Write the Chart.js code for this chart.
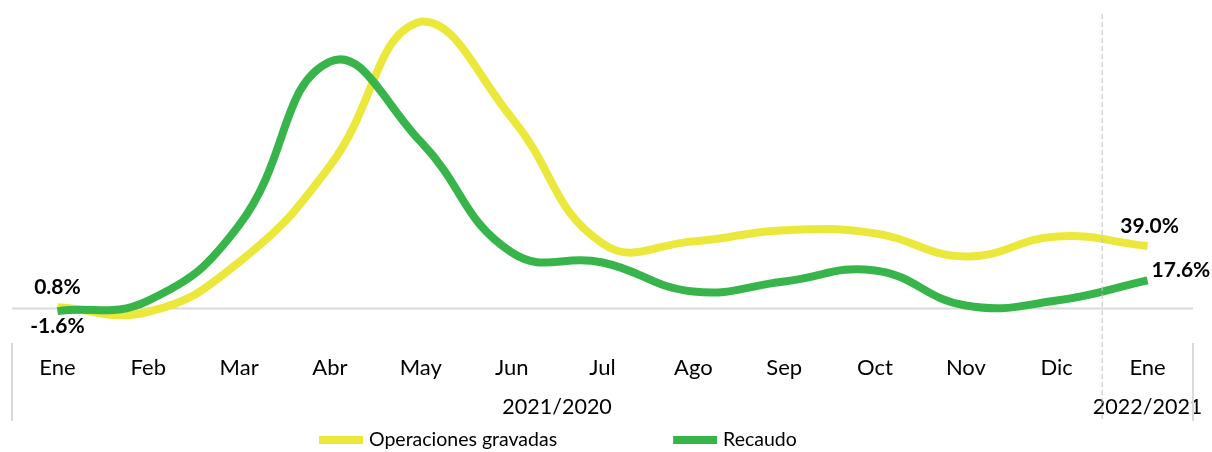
<!DOCTYPE html>
<html>
<head>
<meta charset="utf-8">
<script src="https://cdn.jsdelivr.net/npm/chart.js@4.4.0/dist/chart.umd.min.js"></script>
<style>
  body { margin: 0; background: #fff; }
  #wrap { width: 1212px; height: 452px; }
</style>
</head>
<body>
<div id="wrap"><canvas id="myChart" width="1212" height="452"></canvas></div>
<script>
// data (% change)
const months = ['Ene', 'Feb', 'Mar', 'Abr', 'May', 'Jun', 'Jul', 'Ago', 'Sep', 'Oct', 'Nov', 'Dic', 'Ene'];
const operaciones = [0.8, -2, 29, 89, 179, 119, 40.6, 41.9, 48.8, 46.9, 32.5, 45, 39.0];
const recaudo = [-1.6, 5, 52, 154, 104, 35, 28.7, 10.6, 16.9, 23.7, 1.9, 5, 17.6];
const groups = ['2021/2020', '2022/2021'];
const groupSizes = [12, 1];
// which points get a value label
const labelled = [0, 12];

const yellow = '#ECE83B';
const green = '#38B54A';
const font = 'Lato';

const extras = {
  id: 'extras',
  afterDatasetsDraw(chart) {
    const c = chart.ctx;
    const x = chart.scales.x;
    const y = chart.scales.y;
    const y0 = y.getPixelForValue(0);

    // zero line, behind the lines
    c.save();
    c.globalCompositeOperation = 'destination-over';
    c.strokeStyle = '#d9d9d9';
    c.lineWidth = 2;
    c.beginPath();
    c.moveTo(x.left, y0);
    c.lineTo(x.right, y0);
    c.stroke();
    c.restore();
  },
  afterDraw(chart) {
    const c = chart.ctx;
    const x = chart.scales.x;
    const band = (x.right - x.left) / months.length;

    // group separators + group labels
    c.save();
    c.strokeStyle = '#d9d9d9';
    c.lineWidth = 2;
    let start = 0;
    const edges = [x.left];
    groups.forEach((g, i) => {
      const end = start + groupSizes[i];
      const xa = x.getPixelForValue(start) - band / 2;
      const xb = x.getPixelForValue(end - 1) + band / 2;
      edges.push(xb);
      c.fillStyle = '#000';
      c.font = '21.5px ' + font;
      c.textAlign = 'center';
      c.textBaseline = 'middle';
      c.fillText(g, (xa + xb) / 2, 407);
      start = end;
    });
    edges.forEach((e, i) => {
      if (i === 1) return;
      c.beginPath();
      c.moveTo(e, 343);
      c.lineTo(e, 421);
      c.stroke();
    });
    // dashed divider between years
    c.strokeStyle = '#bfbfbf';
    c.lineWidth = 1;
    c.setLineDash([5, 3]);
    c.beginPath();
    c.moveTo(edges[1], 14);
    c.lineTo(edges[1], 421);
    c.stroke();
    c.setLineDash([]);
    c.restore();

    // value labels
    c.save();
    c.font = 'bold 21px ' + font;
    c.fillStyle = '#000';
    c.textBaseline = 'middle';
    const m0 = chart.getDatasetMeta(0);
    const m1 = chart.getDatasetMeta(1);
    labelled.forEach(j => {
      const pOp = m0.data[j];
      const pRe = m1.data[j];
      const tOp = operaciones[j].toFixed(1) + '%';
      const tRe = recaudo[j].toFixed(1) + '%';
      if (j === 0) {
        c.textAlign = 'center';
        c.fillText(tOp, pOp.x, pOp.y - 20);
        c.fillText(tRe, pRe.x, pRe.y + 15);
      } else {
        c.textAlign = 'center';
        c.fillText(tOp, pOp.x + 2, pOp.y - 20);
        c.textAlign = 'left';
        c.fillText(tRe, pRe.x + 4, pRe.y - 10);
      }
    });
    c.restore();

    // legend
    c.save();
    c.font = '19.5px ' + font;
    c.textBaseline = 'middle';
    c.textAlign = 'left';
    const items = [chart.data.datasets[0], chart.data.datasets[1]];
    let lx = 319;
    const ly = 440;
    items.forEach(ds => {
      c.fillStyle = ds.borderColor;
      c.fillRect(lx, ly - 4, 44, 8);
      c.fillStyle = '#000';
      c.fillText(ds.label, lx + 50, ly);
      lx += 50 + c.measureText(ds.label).width + 116;
    });
    c.restore();
  }
};

new Chart(document.getElementById('myChart'), {
  type: 'line',
  data: {
    labels: months,
    datasets: [{
      label: 'Operaciones gravadas',
      data: operaciones,
      borderColor: yellow,
      borderWidth: 8,
      tension: 0.45,
      pointRadius: 0,
      fill: false,
      clip: false,
      order: 1
    }, {
      label: 'Recaudo',
      data: recaudo,
      borderColor: green,
      borderWidth: 8,
      tension: 0.45,
      pointRadius: 0,
      fill: false,
      clip: false,
      order: 0
    }]
  },
  plugins: [extras],
  options: {
    responsive: false,
    animation: false,
    layout: { padding: { left: 12, right: 19, top: 20, bottom: 57 } },
    plugins: {
      legend: { display: false },
      tooltip: { enabled: false }
    },
    scales: {
      x: {
        offset: true,
        grid: { display: false, drawTicks: false },
        border: { display: false },
        ticks: {
          color: '#000',
          padding: 14,
          font: { family: font, size: 22 }
        }
      },
      y: {
        display: false,
        min: -20,
        max: 180
      }
    }
  }
});
</script>
</body>
</html>
